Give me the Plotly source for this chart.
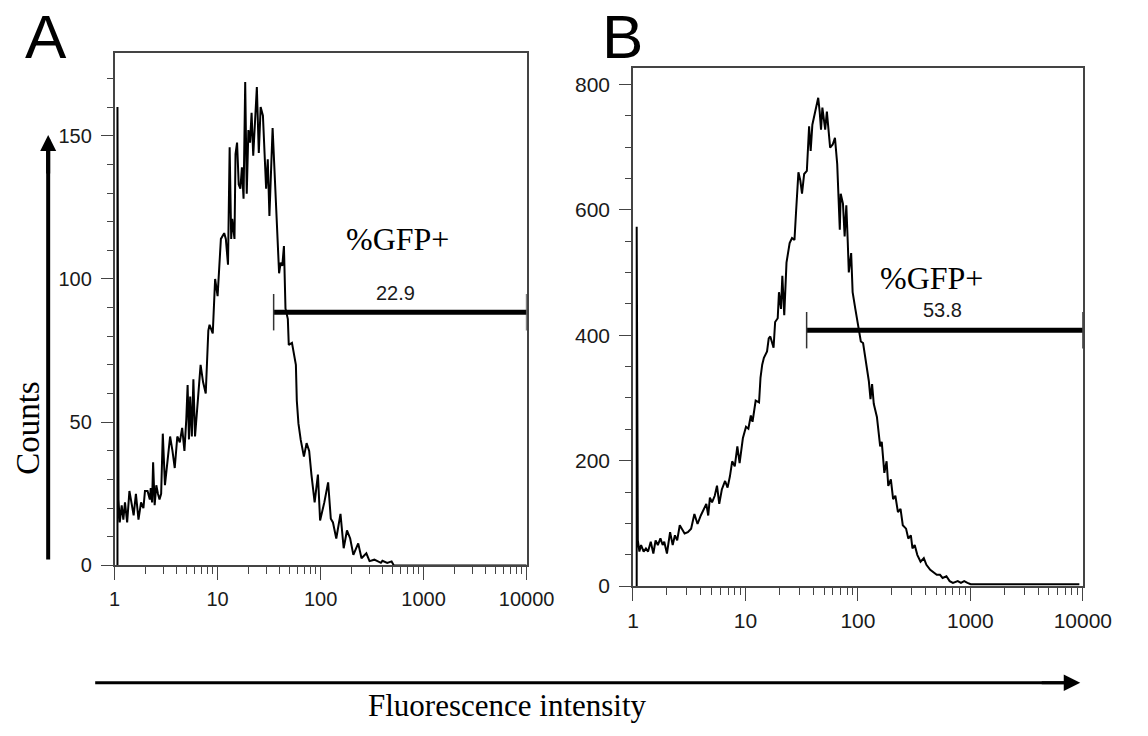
import numpy as np
import plotly.graph_objects as go

# ---------------- data ----------------
# Panel A: log10(fluorescence) positions and counts
a_log_fl = [0.028, 0.028, 0.038, 0.050, 0.069, 0.085, 0.101, 0.122, 0.144, 0.169, 0.185, 0.207, 0.232,
            0.257, 0.280, 0.295, 0.320, 0.342, 0.351, 0.364, 0.374, 0.389, 0.405, 0.421, 0.436, 0.452,
            0.468, 0.489, 0.515, 0.539, 0.562, 0.584, 0.609, 0.633, 0.656, 0.678, 0.696, 0.709, 0.722,
            0.734, 0.750, 0.765, 0.781, 0.803, 0.835, 0.859, 0.885, 0.910, 0.922, 0.953, 0.976, 1.000,
            1.032, 1.064, 1.080, 1.101, 1.117, 1.132, 1.142, 1.164, 1.174, 1.189, 1.205, 1.221, 1.236,
            1.252, 1.268, 1.283, 1.299, 1.315, 1.330, 1.346, 1.362, 1.381, 1.400, 1.418, 1.440, 1.456,
            1.471, 1.487, 1.503, 1.534, 1.565, 1.597, 1.612, 1.628, 1.644, 1.659, 1.682, 1.691, 1.722,
            1.760, 1.769, 1.785, 1.807, 1.838, 1.864, 1.889, 1.911, 1.942, 1.974, 1.995, 2.036, 2.073,
            2.099, 2.120, 2.152, 2.193, 2.224, 2.256, 2.287, 2.318, 2.365, 2.397, 2.444, 2.475, 2.522,
            2.585, 2.600, 2.647, 2.689, 2.711, 4.000]
a_counts = [0, 160, 23, 15, 21, 16, 22, 15, 26, 21, 17.5, 25, 16,
            22, 20, 26, 26, 23, 27, 22, 36, 21, 28, 25, 23, 25,
            46, 28, 38, 45, 40, 34, 45, 43, 48, 40, 51, 63, 44,
            59, 45, 65, 45, 55, 70, 64, 60, 82, 84, 81, 100, 94,
            114, 116, 114, 105, 146, 114, 121, 114, 143.6, 147.6, 133, 131.5, 139,
            128, 168.8, 129.8, 152, 147.6, 158, 143, 152.7, 167, 144, 160, 157, 141.8,
            131.5, 141.8, 122, 152.7, 130, 102, 105.7, 104.6, 111.5, 89.7, 86, 77, 77.7,
            70, 57.5, 49.5, 43.8, 38, 42.7, 40, 31.7, 22, 31.7, 15.7, 22, 29,
            16.3, 15, 9.4, 18, 6, 12.2, 9.4, 3.7, 7.7, 2.5, 4.2, 1.5, 2,
            0.9, 1.6, 0.9, 1.4, 0, 0]

# Panel B
b_log_fl = [0.033, 0.033, 0.043, 0.057, 0.072, 0.095, 0.115, 0.134, 0.158, 0.181, 0.201, 0.221, 0.244,
            0.264, 0.278, 0.302, 0.330, 0.353, 0.373, 0.393, 0.416, 0.440, 0.459, 0.488, 0.517, 0.546,
            0.574, 0.603, 0.632, 0.652, 0.669, 0.684, 0.703, 0.727, 0.747, 0.767, 0.790, 0.819, 0.841,
            0.862, 0.882, 0.905, 0.928, 0.948, 0.977, 1.005, 1.026, 1.048, 1.063, 1.091, 1.121, 1.134,
            1.149, 1.164, 1.192, 1.207, 1.221, 1.235, 1.250, 1.264, 1.287, 1.298, 1.316, 1.328, 1.345,
            1.365, 1.393, 1.414, 1.436, 1.451, 1.471, 1.488, 1.503, 1.522, 1.546, 1.566, 1.580, 1.595,
            1.615, 1.632, 1.647, 1.660, 1.672, 1.684, 1.695, 1.709, 1.724, 1.738, 1.753, 1.776, 1.796,
            1.816, 1.830, 1.839, 1.847, 1.867, 1.882, 1.897, 1.910, 1.919, 1.940, 1.953, 1.977, 1.997,
            2.011, 2.026, 2.046, 2.069, 2.097, 2.112, 2.126, 2.141, 2.169, 2.198, 2.212, 2.235, 2.255,
            2.270, 2.293, 2.313, 2.333, 2.356, 2.379, 2.399, 2.428, 2.448, 2.471, 2.485, 2.505, 2.528,
            2.557, 2.586, 2.609, 2.643, 2.678, 2.701, 2.730, 2.753, 2.787, 2.816, 2.845, 2.888, 2.916,
            2.945, 2.974, 3.003, 3.969]
b_counts = [0, 573, 73, 55, 65.5, 55, 60, 55, 70.7, 52, 73, 65.5, 76,
            65.5, 70.7, 52, 86, 65.5, 81, 73, 97, 89, 84, 86, 91.6, 115,
            99, 112.6, 123, 131, 112.6, 141, 133.5, 144, 160, 131, 154, 167.6, 157,
            175, 199, 191, 222.6, 196, 235.6, 254, 251, 272, 262, 295.7, 293, 332.5,
            353, 364, 374, 395, 398, 390, 380, 421, 427, 468.5, 442, 494.7, 432,
            515.6, 547, 555, 552, 599.5, 659.6, 646.6, 625.6, 657, 662, 733, 693.7, 735.5,
            751, 761.7, 778.5, 756.5, 727.7, 762.8, 748.7, 727.7, 756.5, 727.7, 699, 704, 714.6,
            672.7, 609.8, 568, 625.6, 609.8, 557.5, 607, 547, 500, 531, 468.5, 442, 421,
            405.6, 390, 387.5, 358.6, 327, 298, 322, 290.6, 269.7, 222.6, 230, 180.6, 199,
            159.7, 170, 138.7, 144, 117.8, 123, 97, 91.6, 75.9, 81, 60, 65.5, 49.8,
            39, 44.5, 34, 26, 21, 18, 18, 13, 15.7, 7.9, 5.2, 7.9, 5.2,
            7.9, 5.2, 3, 3]

# gates
gate_x = [35, 10000]
gate_a_y = 88.4
gate_b_y = 408
gate_a_label = "22.9"
gate_b_label = "53.8"

x_tickvals = [1, 10, 100, 1000, 10000]
x_ticktext = ["1", "10", "100", "1000", "10000"]
a_yticks = [0, 50, 100, 150]
b_yticks = [0, 200, 400, 600, 800]

# ---------------- figure ----------------
W, H = 1148, 736
SANS = "Liberation Sans, Arial, sans-serif"
SERIF = "Liberation Serif, Times New Roman, serif"
AX = "#444444"
TXT = "#1a1a1a"

def px(x):
    return x / W

def py(y):
    return 1 - y / H

fig = go.Figure()

fig.add_trace(go.Scatter(x=np.power(10.0, a_log_fl), y=a_counts, mode="lines",
                         line=dict(color="black", width=2), xaxis="x", yaxis="y",
                         showlegend=False, hoverinfo="skip"))
fig.add_trace(go.Scatter(x=np.power(10.0, b_log_fl), y=b_counts, mode="lines",
                         line=dict(color="black", width=2), xaxis="x2", yaxis="y2",
                         showlegend=False, hoverinfo="skip"))

# gate bars
for xa, ya, gy in (("x", "y", gate_a_y), ("x2", "y2", gate_b_y)):
    fig.add_trace(go.Scatter(x=gate_x, y=[gy, gy], mode="lines+markers",
                             line=dict(color="black", width=5),
                             marker=dict(symbol="line-ns", size=26,
                                         line=dict(color="#333333", width=1.5)),
                             xaxis=xa, yaxis=ya, showlegend=False, hoverinfo="skip"))

def xaxis_cfg(domain, anchor, fs):
    return dict(type="log", domain=domain, anchor=anchor, range=[0, 4],
                tickmode="array", tickvals=x_tickvals, ticktext=x_ticktext,
                ticks="outside", ticklen=13, tickwidth=1.3, tickcolor=AX,
                minor=dict(dtick="D1", ticks="outside", ticklen=7, tickwidth=1.1,
                           tickcolor=AX, showgrid=False),
                showline=True, linecolor=AX, linewidth=1.5, mirror=True,
                showgrid=False, zeroline=False, ticklabelstandoff=2,
                tickfont=dict(family=SANS, size=fs, color=TXT))

def yaxis_cfg(domain, anchor, rng, tv, minor_dtick, fs):
    return dict(domain=domain, anchor=anchor, range=rng,
                tickmode="array", tickvals=tv,
                ticks="outside", ticklen=12, tickwidth=1.3, tickcolor=AX,
                minor=dict(dtick=minor_dtick, tick0=0, ticks="outside", ticklen=6,
                           tickwidth=1.1, tickcolor=AX, showgrid=False),
                showline=True, linecolor=AX, linewidth=1.5, mirror=True,
                showgrid=False, zeroline=False, ticklabelstandoff=5,
                tickfont=dict(family=SANS, size=fs, color=TXT))

fig.update_layout(
    width=W, height=H,
    margin=dict(l=0, r=0, t=0, b=0),
    paper_bgcolor="white", plot_bgcolor="white",
    xaxis=xaxis_cfg([px(112), px(537)], "y", 20),
    yaxis=yaxis_cfg([py(574), py(53.5)], "x", [0, 179], a_yticks, 10, 20),
    xaxis2=xaxis_cfg([px(646.7), px(1110.7)], "y2", 21),
    yaxis2=yaxis_cfg([py(595), py(69)], "x2", [0, 826], b_yticks, 50, 21),
)

# arrow shafts
fig.add_shape(type="line", xref="paper", yref="paper",
              x0=px(43.5), x1=px(43.5), y0=py(568), y1=py(150),
              line=dict(color="black", width=4))
fig.add_shape(type="line", xref="paper", yref="paper",
              x0=px(92), x1=px(1095), y0=py(693), y1=py(693),
              line=dict(color="black", width=3))

ann = []
# panel letters
ann.append(dict(text="A", x=px(41), y=py(0), xref="paper", yref="paper",
                showarrow=False, font=dict(family=SANS, size=62, color="black"),
                xanchor="center", yanchor="top"))
ann.append(dict(text="B", x=px(636), y=py(0), xref="paper", yref="paper",
                showarrow=False, font=dict(family=SANS, size=62, color="black"),
                xanchor="center", yanchor="top"))
# gate labels
ann.append(dict(text="%GFP+", x=px(404), y=py(243), xref="paper", yref="paper",
                showarrow=False, font=dict(family=SERIF, size=32, color="black"),
                xanchor="center", yanchor="middle"))
ann.append(dict(text=gate_a_label, x=px(402), y=py(297), xref="paper", yref="paper",
                showarrow=False, font=dict(family=SANS, size=20, color=TXT),
                xanchor="center", yanchor="middle"))
ann.append(dict(text="%GFP+", x=px(955), y=py(282), xref="paper", yref="paper",
                showarrow=False, font=dict(family=SERIF, size=32, color="black"),
                xanchor="center", yanchor="middle"))
ann.append(dict(text=gate_b_label, x=px(966), y=py(315), xref="paper", yref="paper",
                showarrow=False, font=dict(family=SANS, size=20, color=TXT),
                xanchor="center", yanchor="middle"))
# axis titles
ann.append(dict(text="Counts", x=px(22), y=py(434), xref="paper", yref="paper",
                showarrow=False, textangle=-90, font=dict(family=SERIF, size=33, color="black"),
                xanchor="center", yanchor="middle"))
ann.append(dict(text="Fluorescence intensity", x=px(517), y=py(716), xref="paper", yref="paper",
                showarrow=False, font=dict(family=SERIF, size=31, color="black"),
                xanchor="center", yanchor="middle"))
# arrow heads
ann.append(dict(text="", x=px(43.5), y=py(137), xref="paper", yref="paper",
                showarrow=True, ax=0, ay=40, axref="pixel", ayref="pixel",
                arrowhead=2, arrowsize=0.8, arrowwidth=4, arrowcolor="black", standoff=0))
ann.append(dict(text="", x=px(1108), y=py(693), xref="paper", yref="paper",
                showarrow=True, ax=-40, ay=0, axref="pixel", ayref="pixel",
                arrowhead=2, arrowsize=1.1, arrowwidth=3, arrowcolor="black", standoff=0))
fig.update_layout(annotations=ann)

fig.write_html("out.html")
